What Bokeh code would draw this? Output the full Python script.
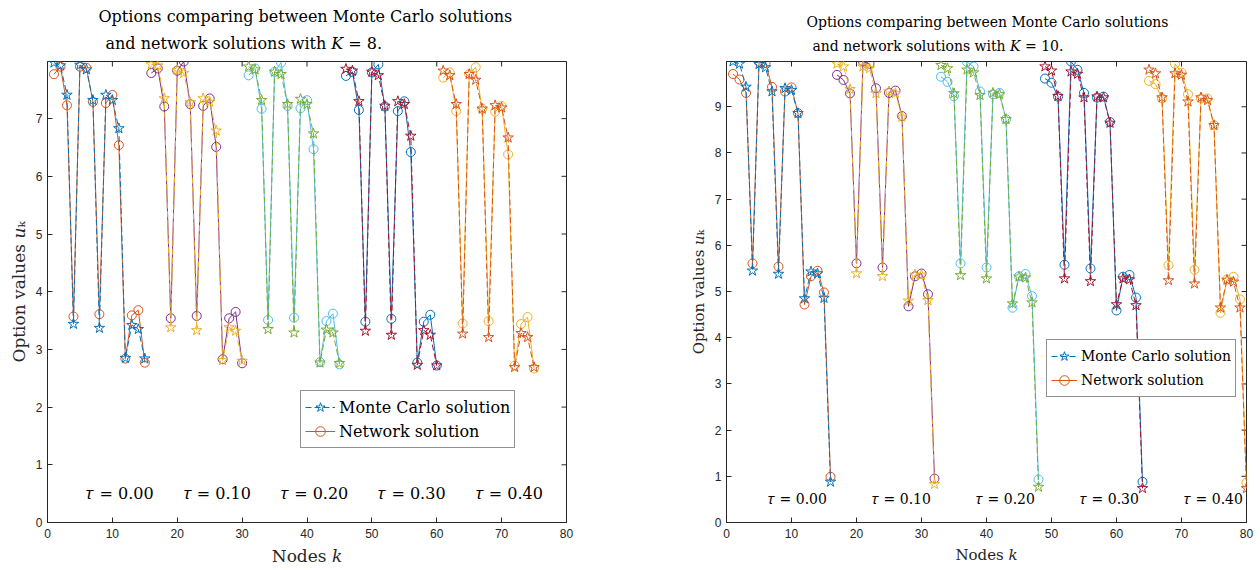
from bokeh.plotting import figure
from bokeh.layouts import row
from bokeh.models import Legend, LegendItem, Title, FixedTicker, Range1d
from bokeh.core.properties import value
from bokeh.embed import file_html
from bokeh.resources import INLINE

taus = ["0.00", "0.10", "0.20", "0.30", "0.40"]
x_ticks = [0, 10, 20, 30, 40, 50, 60, 70, 80]

# K = 8: 15 nodes per maturity
mc_k8 = [
    7.97, 7.92, 7.41, 3.44, 7.93, 7.85, 7.32, 3.37, 7.41, 7.32, 6.83, 2.85, 3.42, 3.35, 2.84,
    7.94, 7.92, 7.35, 3.38, 7.84, 7.79, 7.28, 3.33, 7.35, 7.29, 6.79, 2.81, 3.38, 3.32, 2.80,
    7.90, 7.85, 7.32, 3.35, 7.81, 7.77, 7.25, 3.29, 7.34, 7.25, 6.74, 2.77, 3.34, 3.29, 2.76,
    7.86, 7.83, 7.30, 3.32, 7.81, 7.75, 7.22, 3.25, 7.30, 7.25, 6.70, 2.73, 3.33, 3.25, 2.72,
    7.83, 7.75, 7.25, 3.27, 7.77, 7.67, 7.17, 3.21, 7.23, 7.19, 6.67, 2.69, 3.28, 3.21, 2.69]
nn_k8 = [
    7.77, 7.90, 7.23, 3.57, 7.90, 7.88, 7.29, 3.61, 7.27, 7.41, 6.54, 2.84, 3.59, 3.68, 2.77,
    7.79, 7.87, 7.21, 3.54, 7.83, 7.99, 7.25, 3.58, 7.22, 7.35, 6.51, 2.83, 3.54, 3.65, 2.76,
    7.75, 7.87, 7.17, 3.51, 7.81, 7.97, 7.22, 3.55, 7.18, 7.32, 6.47, 2.78, 3.49, 3.62, 2.74,
    7.74, 7.81, 7.15, 3.48, 7.80, 7.94, 7.21, 3.53, 7.13, 7.30, 6.42, 2.77, 3.48, 3.60, 2.72,
    7.71, 7.80, 7.13, 3.45, 7.77, 7.89, 7.17, 3.49, 7.12, 7.22, 6.38, 2.72, 3.44, 3.56, 2.67]

# K = 10: 16 nodes per maturity
mc_k10 = [
    9.98, 9.93, 9.43, 5.45, 9.92, 9.85, 9.33, 5.38, 9.40, 9.36, 8.86, 4.85, 5.43, 5.39, 4.86, 0.88,
    9.93, 9.87, 9.38, 5.39, 9.87, 9.83, 9.29, 5.33, 9.33, 9.29, 8.78, 4.80, 5.36, 5.36, 4.81, 0.83,
    9.90, 9.83, 9.29, 5.35, 9.80, 9.74, 9.25, 5.28, 9.30, 9.27, 8.73, 4.74, 5.32, 5.30, 4.76, 0.77,
    9.87, 9.78, 9.23, 5.28, 9.76, 9.71, 9.20, 5.22, 9.22, 9.20, 8.65, 4.72, 5.28, 5.26, 4.70, 0.74,
    9.80, 9.72, 9.20, 5.24, 9.72, 9.69, 9.11, 5.17, 9.20, 9.14, 8.60, 4.65, 5.25, 5.21, 4.65, 0.74]
nn_k10 = [
    9.71, 9.59, 9.30, 5.61, 9.97, 9.95, 9.43, 5.54, 9.33, 9.42, 8.86, 4.72, 5.33, 5.45, 4.98, 0.99,
    9.69, 9.58, 9.29, 5.61, 9.98, 9.93, 9.40, 5.52, 9.30, 9.35, 8.80, 4.68, 5.33, 5.39, 4.94, 0.95,
    9.65, 9.54, 9.23, 5.61, 9.97, 9.87, 9.33, 5.52, 9.27, 9.30, 8.73, 4.65, 5.33, 5.38, 4.90, 0.93,
    9.61, 9.52, 9.22, 5.58, 9.98, 9.80, 9.30, 5.50, 9.20, 9.22, 8.67, 4.59, 5.32, 5.36, 4.87, 0.88,
    9.56, 9.49, 9.18, 5.57, 9.93, 9.74, 9.27, 5.47, 9.18, 9.18, 8.60, 4.54, 5.26, 5.32, 4.83, 0.86]

# MATLAB default colour order
ORDER = ["#0072BD", "#D95319", "#EDB120", "#7E2F8E", "#77AC30", "#4DBEEE", "#A2142F"]
AX = "#262626"
SERIF = "DejaVu Serif"
SANS = "Liberation Sans"
HEIGHT = 570
BORDER_TOP, BORDER_BOTTOM = 61, 48
TICK_LEN = 5


def panel(K, mc, nn, y_top, width, left, right, fs, legend_xy, glyph_w, title_off, title_pad):
    n = len(mc) // len(taus)
    p = figure(width=width, height=HEIGHT, x_range=Range1d(0, 80), y_range=Range1d(0, y_top),
               output_backend="svg", toolbar_location=None, title=None,
               min_border_left=left, min_border_right=right,
               min_border_top=BORDER_TOP, min_border_bottom=BORDER_BOTTOM)
    p.grid.visible = False
    p.outline_line_color = AX
    p.outline_line_width = 1

    y_ticks = list(range(0, int(y_top) + 1))
    for ax, ticks in ((p.xaxis[0], x_ticks), (p.yaxis[0], y_ticks)):
        ax.ticker = FixedTicker(ticks=ticks)
        ax.minor_tick_line_color = None
        ax.major_tick_in = TICK_LEN
        ax.major_tick_out = 0
        ax.axis_line_color = AX
        ax.major_tick_line_color = AX
        ax.major_label_text_color = AX
        ax.major_label_text_font = SANS
        ax.major_label_text_font_size = fs["tick"]
        ax.axis_label_text_font = SERIF
        ax.axis_label_text_font_style = "normal"
        ax.axis_label_text_font_size = fs["label"]
        ax.axis_label_text_color = AX
    p.xaxis.axis_label = "Nodes 𝑘"
    p.yaxis.axis_label = "Option values 𝑢ₖ"
    p.xaxis.major_label_standoff = 6
    p.xaxis.axis_label_standoff = 5
    p.yaxis.major_label_standoff = 5
    p.yaxis.axis_label_standoff = 4

    # box ticks along the top and right edges of the frame
    frame_w = width - left - right
    frame_h = HEIGHT - BORDER_TOP - BORDER_BOTTOM
    dy = TICK_LEN * y_top / frame_h
    dx = TICK_LEN * 80 / frame_w
    p.segment(x0=x_ticks, y0=[y_top] * len(x_ticks), x1=x_ticks,
              y1=[y_top - dy] * len(x_ticks), line_color=AX, line_width=1)
    p.segment(x0=[80] * len(y_ticks), y0=y_ticks, x1=[80 - dx] * len(y_ticks),
              y1=y_ticks, line_color=AX, line_width=1)

    first = None
    for i, tau in enumerate(taus):
        k = list(range(i * n + 1, (i + 1) * n + 1))
        c_mc = ORDER[(2 * i) % 7]
        c_nn = ORDER[(2 * i + 1) % 7]
        y_nn = nn[i * n:(i + 1) * n]
        y_mc = mc[i * n:(i + 1) * n]
        ln = p.line(k, y_nn, line_color=c_nn, line_width=1)
        sn = p.scatter(k, y_nn, marker="circle", size=9, line_color=c_nn,
                       fill_color=None, line_width=1)
        lm = p.line(k, y_mc, line_color=c_mc, line_width=1, line_dash="6 3")
        sm = p.scatter(k, y_mc, marker="star", size=11, line_color=c_mc,
                       fill_color=None, line_width=1)
        if first is None:
            first = (lm, sm, ln, sn)

    p.text(x=[i * n + 0.4 * n for i in range(len(taus))], y=[0.5] * len(taus),
           text=["𝜏 = " + t for t in taus], text_font=value(SERIF),
           text_font_size=fs["tau"], text_color="black",
           text_align="left", text_baseline="middle")

    legend = Legend(items=[
        LegendItem(label="Monte Carlo solution", renderers=[first[0], first[1]]),
        LegendItem(label="Network solution", renderers=[first[2], first[3]]),
    ], location=legend_xy, orientation="vertical")
    legend.label_text_font = SERIF
    legend.label_text_font_size = fs["legend"]
    legend.label_text_color = "black"
    legend.border_line_color = AX
    legend.border_line_width = 1
    legend.background_fill_alpha = 1
    legend.glyph_width = glyph_w
    legend.glyph_height = 24
    legend.label_height = 24
    legend.label_standoff = 4
    legend.padding = 4
    legend.spacing = 0
    legend.margin = 0
    p.add_layout(legend)

    # two-line heading; the lower line sits centred in a taller strip
    line2 = Title(text="and network solutions with 𝐾 = %d." % K, align="left",
                  offset=title_off[1], text_font=SERIF, text_font_size=fs["title"],
                  text_font_style="normal", text_color="black",
                  vertical_align="middle", standoff=title_pad[1])
    line1 = Title(text="Options comparing between Monte Carlo solutions", align="left",
                  offset=title_off[0], text_font=SERIF, text_font_size=fs["title"],
                  text_font_style="normal", text_color="black",
                  vertical_align="bottom", standoff=title_pad[0])
    p.add_layout(line2, "above")
    p.add_layout(line1, "above")
    return p


p1 = panel(8, mc_k8, nn_k8, 7.99, 630, 47, 64,
           dict(tick="12px", label="17px", tau="16px", legend="16px", title="16px"),
           (253, 74), 30, (51, 58), (0, 15))
p2 = panel(10, mc_k10, nn_k10, 9.98, 630, 96, 14,
           dict(tick="12px", label="15px", tau="14px", legend="14px", title="14px"),
           (320, 125), 26, (80, 86), (0, 14))

layout = row(p1, p2)
open("out.html", "w").write(file_html(layout, INLINE, title="Option values"))
